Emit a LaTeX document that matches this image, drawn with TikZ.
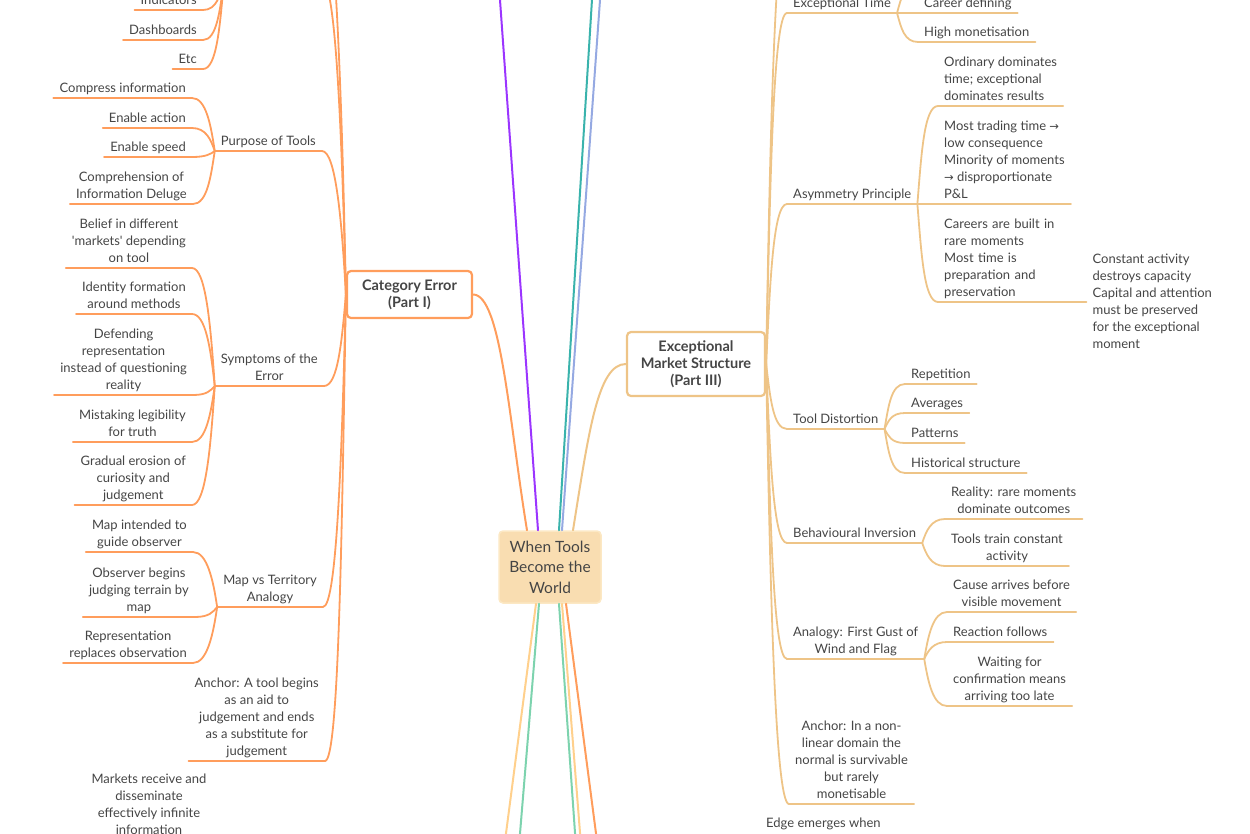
\documentclass[tikz,border=0pt]{standalone}
\usepackage{fontspec}
\setmainfont{Lato}
\newfontfamily\arrowfont{DejaVu Sans}
\usetikzlibrary{calc}

\definecolor{catline}{HTML}{FF9D5C}
\definecolor{emsline}{HTML}{EEC487}
\definecolor{rootfill}{HTML}{F9DDB1}
\definecolor{rootdraw}{HTML}{FCE8C4}
\definecolor{ink}{HTML}{454545}
\definecolor{violetline}{HTML}{9B35FF}
\definecolor{tealline}{HTML}{3AB3AC}
\definecolor{blueline}{HTML}{95A9E2}
\definecolor{yellowline}{HTML}{FFD08C}
\definecolor{greenline}{HTML}{7DD3AE}

\newcommand{\toarrow}{{\arrowfont\fontsize{11.5}{17}\selectfont →}}

\tikzset{
  plain/.style={inner xsep=6pt, inner ysep=3pt, text depth=2.5pt, align=center,
    text=ink, font=\fontsize{13}{17}\selectfont},
  ltopic/.style={plain, append after command={(\tikzlastnode.south west)
    edge[draw=catline, line width=1.8pt] (\tikzlastnode.south east)}},
  rtopic/.style={plain, append after command={(\tikzlastnode.south west)
    edge[draw=emsline, line width=1.8pt] (\tikzlastnode.south east)}},
  mainbox/.style={rounded corners=4pt, fill=white, line width=2.2pt, align=center,
    text=ink, font=\bfseries\fontsize{14.5}{17}\selectfont},
  lb/.style={to path={let \p1=(\tikztostart), \p2=(\tikztotarget) in
    (\p1) .. controls (\x1-4pt,{0.5*\y1+0.5*\y2}) and (\x2+14pt,\y2) .. (\p2)}},
  rb/.style={to path={let \p1=(\tikztostart), \p2=(\tikztotarget) in
    (\p1) .. controls (\x1+4pt,{0.5*\y1+0.5*\y2}) and (\x2-14pt,\y2) .. (\p2)}},
  main/.style={line width=2pt}
}

\begin{document}
\begin{tikzpicture}[x=1pt, y=-1pt, line cap=round, line join=round]
  \useasboundingbox (0,0) rectangle (1250,833);
  \clip (0,0) rectangle (1250,833);

  % central and main topics
  \node[draw=rootdraw, fill=rootfill, line width=1.5pt, rounded corners=4pt,
    minimum width=102pt, minimum height=72pt, align=center, text=ink,
    font=\fontsize{15.5}{20.5}\selectfont] (root) at (550,567) {When Tools\\Become the\\World};
  \node[mainbox, draw=catline, minimum width=125pt, minimum height=47pt] (cat) at (409.5,294.5) {Category Error\\(Part I)};
  \node[mainbox, draw=emsline, minimum width=138pt, minimum height=64pt] (ems) at (696,364) {Exceptional\\Market Structure\\(Part III)};

  % ends of branches outside the page
  \coordinate (upviolet) at (495.7,-60);
  \coordinate (upteal) at (595.7,-60);
  \coordinate (upblue) at (604.3,-60);
  \coordinate (downyellowa) at (497.3,900);
  \coordinate (downgreena) at (514.5,900);
  \coordinate (downgreenb) at (579.7,900);
  \coordinate (downyellowb) at (585.3,900);
  \coordinate (downorange) at (604.7,900);
  \coordinate (toolsend) at (322,-20);
  \coordinate (toolsjoin) at (224,-20);
  \coordinate (catup) at (320,-120);
  \coordinate (emsup) at (789,-90);
  \coordinate (exctimeup) at (918,-16);

  \begin{scope}[every node/.style={ltopic, anchor=south east}]
    \node (indicators) at (203,10) {Indicators};
    \node (dashboards) at (203,40) {Dashboards};
    \node (etc) at (203,69) {Etc};
    \node (purpose) at (322,151) {Purpose of Tools};
    \node (compress) at (192,98) {Compress information};
    \node (action) at (192,128) {Enable action};
    \node (speed) at (192,157) {Enable speed};
    \node (deluge) at (193,204) {Comprehension of\\Information Deluge};
    \node (symptoms) at (324,386) {Symptoms of the\\Error};
    \node (belief) at (192,268) {Belief in different\\\textquotesingle markets\textquotesingle\ depending\\on tool};
    \node (identity) at (192,314) {Identity formation\\around methods};
    \node (defending) at (193,395) {Defending\\representation\\instead of questioning\\reality};
    \node (legibility) at (192,442) {Mistaking legibility\\for truth};
    \node (erosion) at (192,505) {Gradual erosion of\\curiosity and\\judgement};
    \node (mapterr) at (323,607) {Map vs Territory\\Analogy};
    \node (mapguide) at (193,552) {Map intended to\\guide observer};
    \node (observer) at (195,617) {Observer begins\\judging terrain by\\map};
    \node (replaces) at (193,663) {Representation\\replaces observation};
    \node (anchorl) at (325,761) {Anchor: A tool begins\\as an aid to\\judgement and ends\\as a substitute for\\judgement};
  \end{scope}
  \node[plain, anchor=north] (markets) at (149,771) {Markets receive and\\disseminate\\effectively infinite\\information};

  \begin{scope}[every node/.style={rtopic, anchor=south west}]
    \node (exctime) at (787,13) {Exceptional Time};
    \node (career) at (918,13) {Career defining};
    \node (monet) at (918,42) {High monetisation};
    \node (asym) at (787,204) {Asymmetry Principle};
    \node[align=left] (ordinary) at (938,106) {Ordinary dominates\\time; exceptional\\dominates results};
    \node[align=left] (trading) at (938,204) {Most trading time \toarrow\\low consequence\\Minority of moments\\\toarrow{} disproportionate\\P\&L};
    \node[align=left, text width=136pt, text depth=] (careers) at (938,302) {Careers are built in\\rare moments\\Most time is\\preparation and\\preservation};
    \node (tooldist) at (787,429) {Tool Distortion};
    \node (repetition) at (905,384) {Repetition};
    \node (averages) at (905,413) {Averages};
    \node (patterns) at (905,443) {Patterns};
    \node (historical) at (905,473) {Historical structure};
    \node (behaviour) at (787,543) {Behavioural Inversion};
    \node (reality) at (945,519) {Reality: rare moments\\dominate outcomes};
    \node (train) at (945,566) {Tools train constant\\activity};
    \node (analogy) at (787,659) {Analogy: First Gust of\\Wind and Flag};
    \node (cause) at (947,612) {Cause arrives before\\visible movement};
    \node (reaction) at (947,642) {Reaction follows};
    \node (waiting) at (947,706) {Waiting for\\confirmation means\\arriving too late};
    \node (anchorr) at (789,804) {Anchor: In a non-\\linear domain the\\normal is survivable\\but rarely\\monetisable};
  \end{scope}
  \node[plain, align=left, anchor=west] (constant) at (careers.south east) {Constant activity\\destroys capacity\\Capital and attention\\must be preserved\\for the exceptional\\moment};
  \node[plain, anchor=north west] (emerge) at (760,815) {Edge emerges when};

  % branches of the central topic
  \draw[main, catline] (cat.east) .. controls +(28,0) and +(-18,-110) .. ([xshift=-23pt]root.north);
  \draw[main, emsline] (ems.west) .. controls +(-28,0) and +(16,-100) .. ([xshift=23pt]root.north);
  \draw[main, violetline] (upviolet) -- ([xshift=-12pt]root.north);
  \draw[main, tealline] (upteal) -- ([xshift=9pt]root.north);
  \draw[main, blueline] (upblue) -- ([xshift=12pt]root.north);
  \draw[main, yellowline] ([xshift=-14pt]root.south) -- (downyellowa);
  \draw[main, greenline] ([xshift=-11pt]root.south) -- (downgreena);
  \draw[main, greenline] ([xshift=9pt]root.south) -- (downgreenb);
  \draw[main, yellowline] ([xshift=12pt]root.south) -- (downyellowb);
  \draw[main, catline] ([xshift=16pt]root.south) -- (downorange);

  \begin{scope}[every edge/.style={draw=catline, line width=1.8pt, lb}]
    \path (cat.west) edge (catup) edge (toolsend) edge (purpose.south east)
      edge (symptoms.south east) edge (mapterr.south east) edge (anchorl.south east);
    \path (toolsjoin) edge (indicators.south east) edge (dashboards.south east) edge (etc.south east);
    \path (purpose.south west) edge (compress.south east) edge (action.south east)
      edge (speed.south east) edge (deluge.south east);
    \path (symptoms.south west) edge (belief.south east) edge (identity.south east)
      edge (defending.south east) edge (legibility.south east) edge (erosion.south east);
    \path (mapterr.south west) edge (mapguide.south east) edge (observer.south east)
      edge (replaces.south east);
  \end{scope}

  \begin{scope}[every edge/.style={draw=emsline, line width=1.8pt, rb}]
    \path (ems.east) edge (emsup) edge (exctime.south west) edge (asym.south west)
      edge (tooldist.south west) edge (behaviour.south west) edge (analogy.south west)
      edge (anchorr.south west);
    \path (exctime.south east) edge (exctimeup) edge (career.south west) edge (monet.south west);
    \path (asym.south east) edge (ordinary.south west) edge (trading.south west) edge (careers.south west);
    \path (tooldist.south east) edge (repetition.south west) edge (averages.south west)
      edge (patterns.south west) edge (historical.south west);
    \path (behaviour.south east) edge (reality.south west) edge (train.south west);
    \path (analogy.south east) edge (cause.south west) edge (reaction.south west)
      edge (waiting.south west);
  \end{scope}
\end{tikzpicture}
\end{document}
